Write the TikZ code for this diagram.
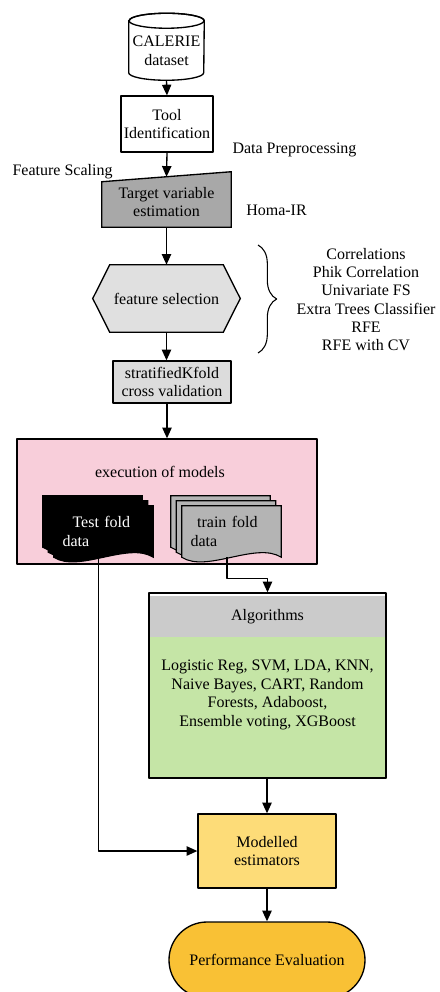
\documentclass[tikz,border=0pt]{standalone}
\usepackage{fontspec}
\setmainfont{Liberation Serif}
\usetikzlibrary{arrows.meta,calc,backgrounds,decorations.pathreplacing}
\definecolor{pinkbox}{HTML}{F8CEDA}
\definecolor{greenbox}{HTML}{C5E5A6}
\definecolor{headgray}{HTML}{CBCBCB}
\definecolor{hexgray}{HTML}{E0E0E0}
\definecolor{skfgray}{HTML}{DCDCDC}
\definecolor{tgtgray}{HTML}{A8A8A8}
\definecolor{pagegray}{HTML}{B4B4B4}
\definecolor{modelyellow}{HTML}{FDDC78}
\definecolor{perforange}{HTML}{F9C135}
\newcommand{\docpage}[3]{%
  \draw[line width=0.8pt, fill=#3] ($(#1.north west)+(#2)$) -- ($(#1.north east)+(#2)$) -- ($(#1.south east)+(#2)$)
    .. controls +(-25,-16) and +(25,16) .. ($(#1.south west)+(#2)$) -- cycle;}
\begin{document}
\begin{tikzpicture}[x=0.75pt, y=-0.75pt, >={Triangle[length=8pt,width=7pt]}, line join=round,
  font=\fontsize{12}{14}\selectfont,
  every node/.style={inner sep=0pt, align=center},
  box/.style={draw, line width=1pt},
  flow/.style={->, line width=1pt}]
\useasboundingbox (0,0) rectangle (439,992);
\node[minimum width=56.25pt, minimum height=44.25pt] (calerie) at (166.5,50.5) {CALERIE\\dataset};
\node[box, fill=white, minimum width=69pt, minimum height=42pt] (tool) at (167,124) {Tool\\Identification};
\node (dprep) at (294.5,150) {Data Preprocessing};
\node (fscale) at (62.5,172) {Feature Scaling};
\node[minimum width=96.75pt, minimum height=37.5pt] (target) at (166.5,202) {Target variable\\estimation};
\node (homa) at (276.5,210) {Homa-IR};
\node[minimum width=110.25pt, minimum height=50.25pt] (fsel) at (166.5,298.5) {feature selection};
\node[font=\fontsize{12}{13.6}\selectfont] (fslist) at (366,299.5)
  {Correlations\\Phik Correlation\\Univariate FS\\Extra Trees Classifier\\RFE\\RFE with CV};
\node[box, fill=skfgray, minimum width=88.5pt, minimum height=31.5pt] (skf) at (172,382) {stratifiedKfold\\cross validation};
\node[box, minimum width=225pt, minimum height=93.75pt] (exec) at (167,501.5) {};
\node (exectitle) at (160,472) {execution of models};
\node[minimum width=74.25pt, minimum height=38.25pt, text width=61.5pt, align=left, text=white] (testdoc) at (103.5,531.5) {\hspace{7.5pt}Test fold\\data};
\node[minimum width=74.25pt, minimum height=38.25pt, text width=61.5pt, align=left] (traindoc) at (231.5,531.5) {\hspace{5pt}train fold\\data};
\node[box, minimum width=177.75pt, minimum height=138.75pt] (algo) at (267.5,685.5) {};
\node (algohead) at (267.5,617) {Algorithms};
\node (algobody) at (267.5,695) {Logistic Reg, SVM, LDA, KNN,\\Naive Bayes, CART, Random\\Forests, Adaboost,\\Ensemble voting, XGBoost};
\node[box, fill=modelyellow, minimum width=103.5pt, minimum height=55.5pt] (model) at (267,851) {Modelled\\estimators};
\node[box, fill=perforange, rounded corners=28.5pt, minimum width=147pt, minimum height=57pt] (perf) at (267,960) {Performance Evaluation};
\begin{scope}[on background layer]
  \draw[box, fill=white] (calerie.north west) -- ($(calerie.south west)+(0,-7.5)$)
    arc[start angle=180, end angle=360, x radius=28.125pt, y radius=5.625pt] -- (calerie.north east)
    arc[start angle=0, end angle=180, x radius=28.125pt, y radius=5.625pt] -- cycle;
  \draw[box] (calerie.north) ellipse[x radius=28.125pt, y radius=5.625pt];
  \draw[box, fill=tgtgray] ($(target.north west)+(0,5)$) -- ($(target.north east)+(0,-5)$) -- (target.south east) -- (target.south west) -- cycle;
  \draw[box, fill=hexgray] (fsel.west) -- ($(fsel.north west)+(17,0)$) -- ($(fsel.north east)+(-17,0)$) -- (fsel.east)
    -- ($(fsel.south east)+(-17,0)$) -- ($(fsel.south west)+(17,0)$) -- cycle;
  \fill[pinkbox] (exec.north west) rectangle (exec.south east);
  \docpage{testdoc}{-11,-10}{black}
  \docpage{testdoc}{-5.5,-5}{black}
  \docpage{testdoc}{0,0}{black}
  \docpage{traindoc}{-11,-10}{pagegray}
  \docpage{traindoc}{-5.5,-5}{pagegray}
  \docpage{traindoc}{0,0}{pagegray}
  \fill[headgray] ($(algo.north west)+(0,4)$) rectangle ($(algo.north east)+(0,45)$);
  \fill[greenbox] ($(algo.north west)+(0,45)$) rectangle (algo.south east);
\end{scope}
\draw[line width=0.8pt, decorate, decoration={brace, amplitude=14pt}] (258,245) -- (258,353);
\draw[flow] (calerie.south) -- (tool.north);
\draw[flow] (tool.south) -- (target.north);
\draw[flow] (target.south) -- (fsel.north);
\draw[flow] (fsel.south) -- (fsel.south |- skf.north);
\draw[flow] (skf.south -| exec.north) -- (exec.north);
\draw[flow] ($(traindoc.south)+(-4.5,0)$) -- ++(0,21) -| (algo.north);
\draw[flow] ($(testdoc.south)+(-5,0)$) |- (model.west);
\draw[flow] (algo.south -| model.north) -- (model.north);
\draw[flow] (model.south) -- (perf.north);
\end{tikzpicture}
\end{document}
